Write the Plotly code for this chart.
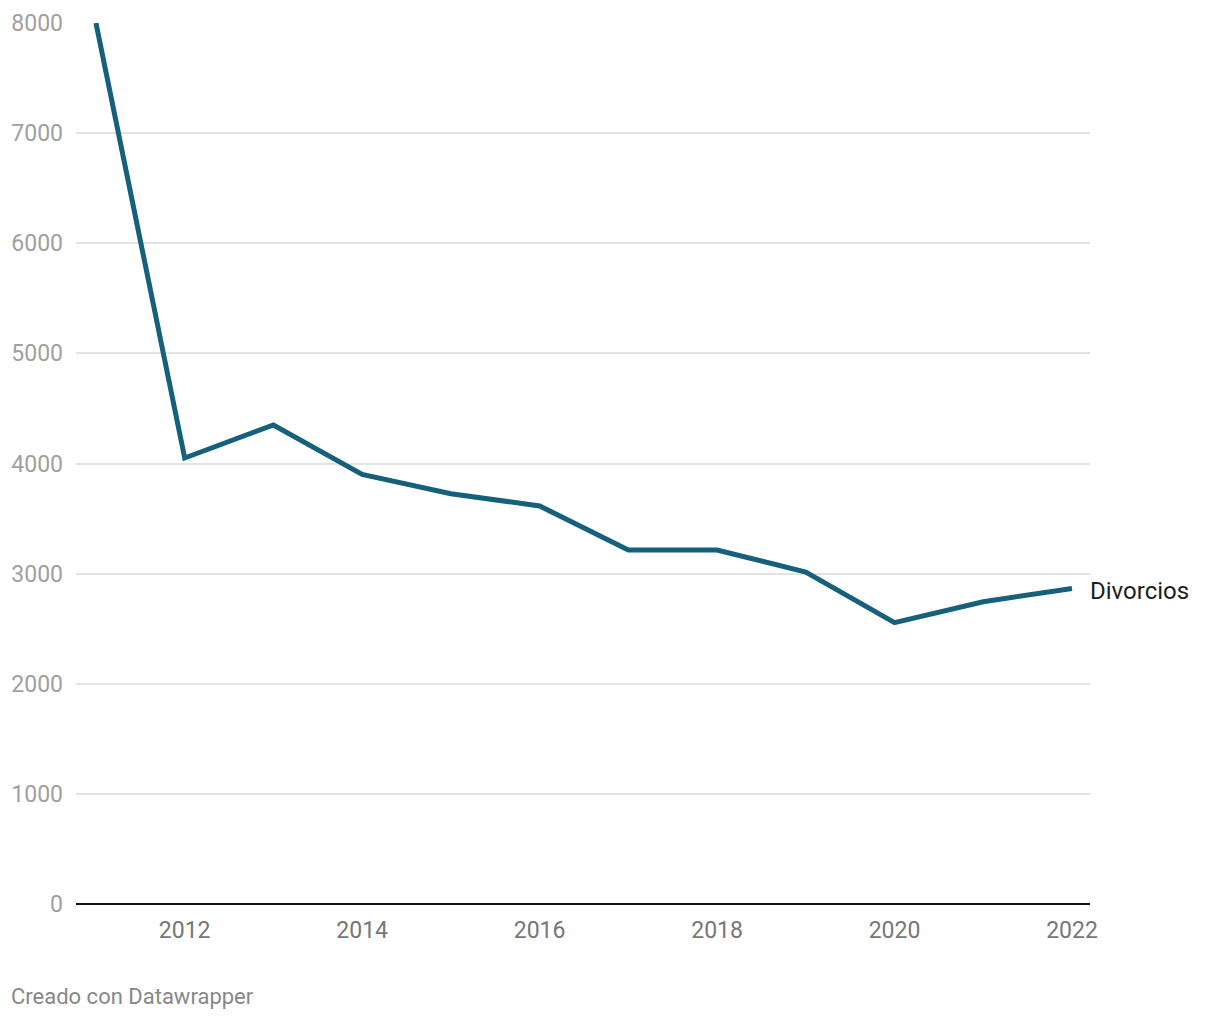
import plotly.graph_objects as go

years = [2011, 2012, 2013, 2014, 2015, 2016, 2017, 2018, 2019, 2020, 2021, 2022]
divorcios = [8000, 4050, 4350, 3900, 3725, 3615, 3215, 3215, 3015, 2555, 2745, 2865]
y_ticks = [0, 1000, 2000, 3000, 4000, 5000, 6000, 7000, 8000]
x_ticks = [2012, 2014, 2016, 2018, 2020, 2022]
series_name = "Divorcios"

# page body has an 8px margin; figure is sized to fit the window
W, H = 1204, 1004
L, T = 68, 15
PW, PH = 1014, 881
R, B = W - L - PW, H - T - PH

fig = go.Figure()
fig.add_trace(go.Scatter(
    x=years, y=divorcios, mode="lines", name=series_name,
    line=dict(color="#15607a", width=5, shape="linear"),
    cliponaxis=False, hoverinfo="x+y",
))

fig.add_annotation(
    x=1, xref="paper", y=divorcios[-1], yref="y",
    text=series_name, showarrow=False, xanchor="left", yanchor="middle",
    xshift=-2, yshift=-3,
    font=dict(family="Roboto", size=24, color="#1d1d1d"),
)
fig.add_annotation(
    x=-(L - 1) / PW, xref="paper", y=-(989 - (T + PH)) / PH, yref="paper",
    text="Creado con Datawrapper",
    showarrow=False, xanchor="left", yanchor="middle",
    font=dict(family="Roboto", size=22, color="#888888"),
)

fig.update_layout(
    width=W, height=H,
    margin=dict(l=L, r=R, t=T, b=B, autoexpand=False),
    paper_bgcolor="white", plot_bgcolor="white",
    showlegend=False,
    font=dict(family="Roboto", size=22),
    xaxis=dict(
        range=[2010.775, 2022.203], tickvals=x_ticks, ticktext=[str(t) for t in x_ticks],
        showgrid=False, zeroline=False, showline=False, ticks="",
        tickfont=dict(family="Roboto", size=23, color="#777777"),
        ticklabelstandoff=10, automargin=False,
    ),
    yaxis=dict(
        range=[0, 8000], tickvals=y_ticks, ticktext=[str(t) for t in y_ticks],
        showgrid=True, gridcolor="#e3e3e3", gridwidth=1.5,
        zeroline=True, zerolinecolor="#111111", zerolinewidth=2,
        showline=False, ticks="",
        tickfont=dict(family="Roboto", size=23, color="#a0a0a0"),
        ticklabelstandoff=12, automargin=False,
    ),
)

fig.write_html("out.html")
